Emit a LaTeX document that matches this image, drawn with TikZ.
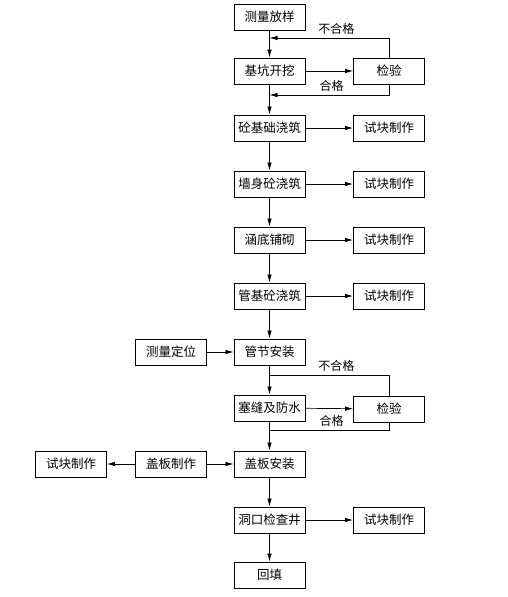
\documentclass[tikz,border=0pt]{standalone}
\usepackage{fontspec}
\newfontfamily\cjk{Noto Sans CJK SC}
\usetikzlibrary{arrows.meta}
\begin{document}
\begin{tikzpicture}[x=1pt,y=-1pt,
  box/.style={draw,line width=0.8pt,minimum width=71pt,minimum height=26pt,inner sep=0pt,font=\cjk\fontsize{12.5}{14}\selectfont},
  lbl/.style={inner sep=0pt,font=\cjk\fontsize{12}{14}\selectfont},
  ln/.style={line width=0.7pt},
  arr/.style={ln,-{Latex[length=8pt,width=4.5pt]}}]
\useasboundingbox[fill=white] (0,0) rectangle (508,597);
\node[box] (a1) at (269.5,17) {测量放样};
\node[box] (a2) at (269.5,71) {基坑开挖};
\node[box] (a3) at (269.5,128) {砼基础浇筑};
\node[box] (a4) at (269.5,184) {墙身砼浇筑};
\node[box] (a5) at (269.5,240) {涵底铺砌};
\node[box] (a6) at (269.5,296) {管基砼浇筑};
\node[box] (a7) at (269.5,352) {管节安装};
\node[box] (a8) at (269.5,408) {塞缝及防水};
\node[box] (a9) at (269.5,464) {盖板安装};
\node[box] (a10) at (269.5,520) {洞口检查井};
\node[box] (a11) at (269.5,575) {回填};
\node[box] (k1) at (389,71) {检验};
\node[box] (k2) at (389,409) {检验};
\node[box] (s3) at (389,128) {试块制作};
\node[box] (s4) at (389,184) {试块制作};
\node[box] (s5) at (389,240) {试块制作};
\node[box] (s6) at (389,296) {试块制作};
\node[box] (s10) at (389,520) {试块制作};
\node[box] (l7) at (171,352) {测量定位};
\node[box] (l9) at (171,464) {盖板制作};
\node[box] (ll9) at (71,464) {试块制作};
\coordinate (j1) at (269.5,38);
\coordinate (j2) at (269.5,95);
\coordinate (j3) at (269.5,375);
\coordinate (j4) at (269.5,430);
% main chain
\draw[arr] (a1) -- (a2);
\draw[arr] (a2) -- (a3);
\draw[arr] (a3) -- (a4);
\draw[arr] (a4) -- (a5);
\draw[arr] (a5) -- (a6);
\draw[arr] (a6) -- (a7);
\draw[arr] (a7) -- (a8);
\draw[arr] (a8) -- (a9);
\draw[arr] (a9) -- (a10);
\draw[arr] (a10) -- (a11);
% first inspection loop
\draw[arr] (a2) -- (k1);
\draw[arr] (k1.north) |- (j1) node[lbl,pos=0.72,above=3pt] {不合格};
\draw[arr] (k1.south) |- (j2) node[lbl,pos=0.74,above=3pt] {合格};
% second inspection loop
\draw[arr] (a8) -- (k2);
\draw[ln] (k2.north) |- (j3) node[lbl,pos=0.72,above=3pt] {不合格};
\draw[ln] (k2.south) |- (j4) node[lbl,pos=0.74,above=3pt] {合格};
% side boxes
\draw[arr] (a3) -- (s3);
\draw[arr] (a4) -- (s4);
\draw[arr] (a5) -- (s5);
\draw[arr] (a6) -- (s6);
\draw[arr] (a10) -- (s10);
\draw[arr] (l7) -- (a7);
\draw[arr] (l9) -- (a9);
\draw[arr] (l9) -- (ll9);
\end{tikzpicture}
\end{document}
